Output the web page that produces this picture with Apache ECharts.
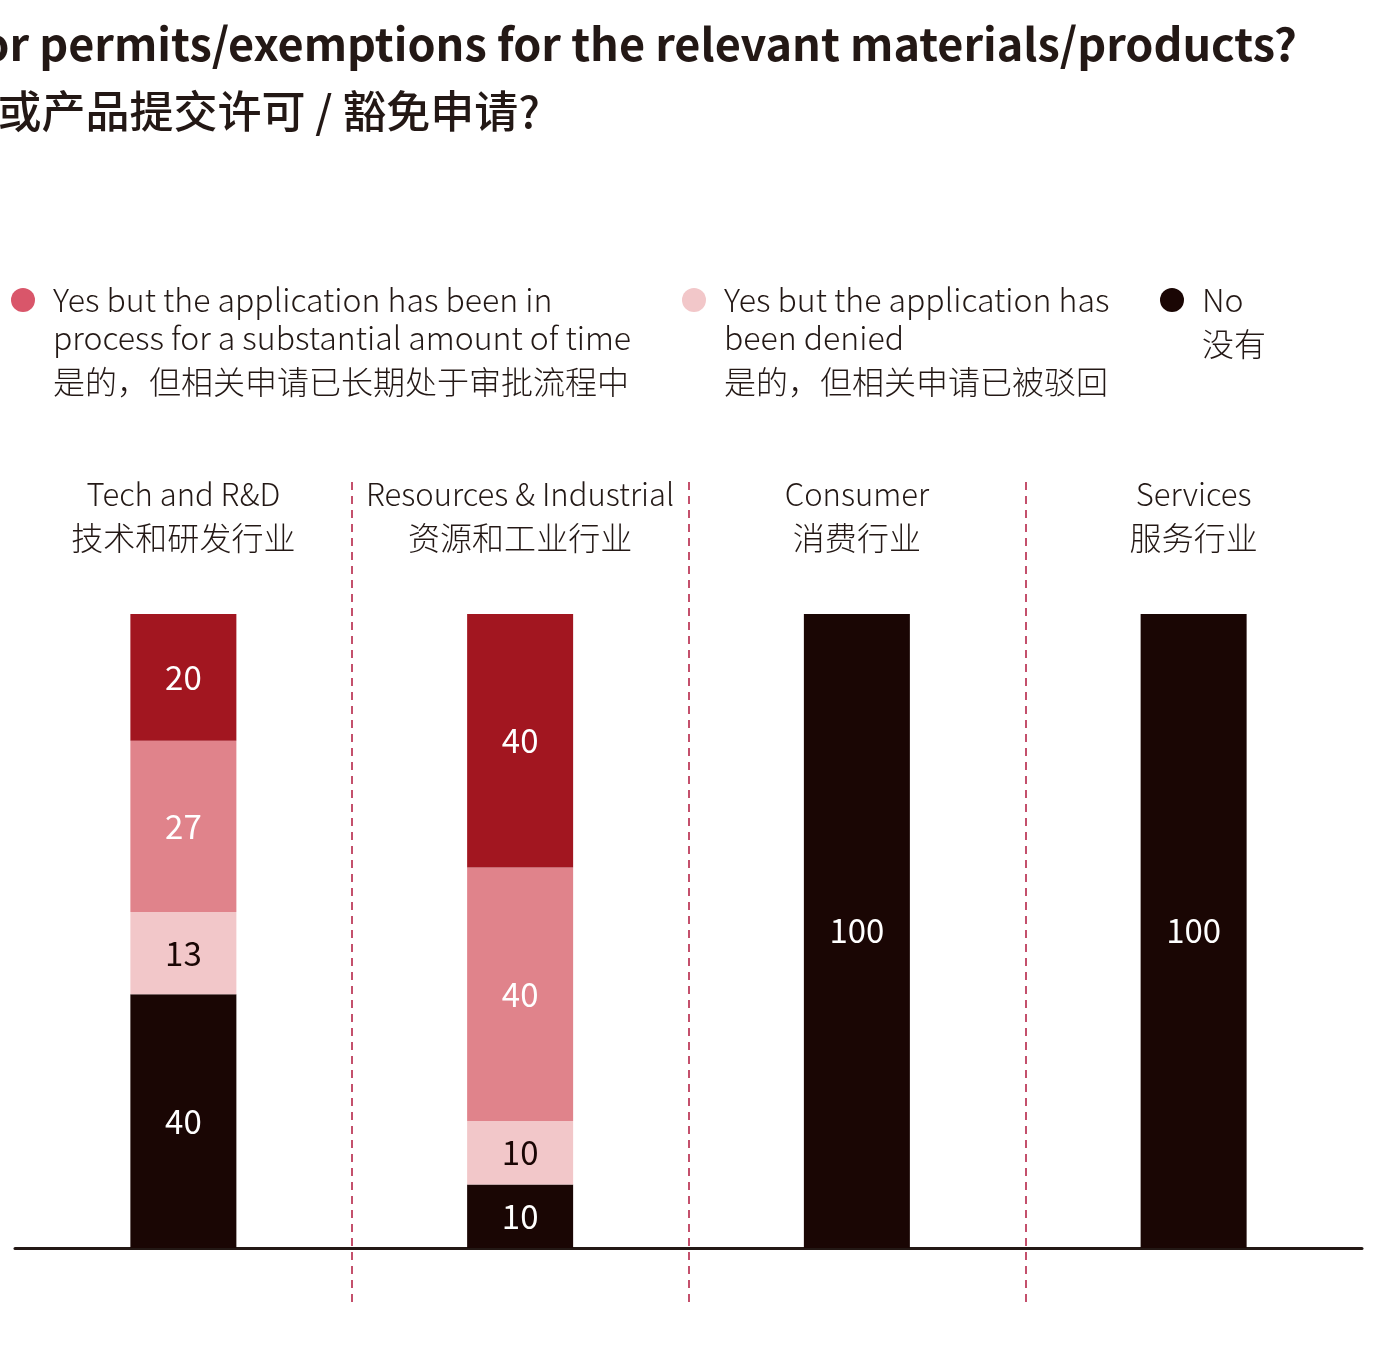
<!DOCTYPE html>
<html>
<head>
<meta charset="utf-8">
<title>Permits / exemptions by sector</title>
<script src="https://cdn.jsdelivr.net/npm/echarts@6/dist/echarts.min.js"></script>
<style>
  html, body { margin: 0; padding: 0; background: #fff; }
  #chart { width: 1388px; height: 1369px; }
</style>
</head>
<body>
<div id="chart"></div>
<script>
// sectors (English / Chinese)
const sectorsEn = ['Tech and R&D', 'Resources & Industrial', 'Consumer', 'Services'];
const sectorsZh = ['技术和研发行业', '资源和工业行业', '消费行业', '服务行业'];

// stacked shares, % of respondents per sector (bottom to top)
const noVals = [40, 10, 100, 100];
const deniedVals = [13, 10, 0, 0];
const inProcessVals = [27, 40, 0, 0];
const yesVals = [20, 40, 0, 0];

// legend texts
const legendInProcess = ['Yes but the application has been in', 'process for a substantial amount of time', '是的，但相关申请已长期处于审批流程中'];
const legendDenied = ['Yes but the application has', 'been denied', '是的，但相关申请已被驳回'];
const legendNo = ['No', '没有'];

const titleEn = 'Has your company applied for permits/exemptions for the relevant materials/products?';
const titleZh = '贵公司是否已就相关材料或产品提交许可 / 豁免申请?';

const FONT = '"Noto Sans CJK SC", "Noto Sans", sans-serif';
const INK = '#231815';

const C_YES = '#a21620';
const C_PROCESS = '#e0838b';
const C_DENIED = '#f2c7c9';
const C_NO = '#1a0604';

const chart = echarts.init(document.getElementById('chart'));

const legendRich = {
  en: { fontFamily: FONT, fontSize: 32, fontWeight: 300, color: INK, lineHeight: 38 },
  zh: { fontFamily: FONT, fontSize: 32, fontWeight: 300, color: INK, lineHeight: 50 }
};

function legendText(lines) {
  return lines.map((l, i) => (i === lines.length - 1 && /[\u4e00-\u9fff]/.test(l) ? '{zh|' : '{en|') + l + '}').join('\n');
}

// push the text down so the marker sits on the first line
function legendItem(name, lines, color) {
  const h = (lines.length - 1) * 38 + 50;
  return {
    name: name,
    itemStyle: color ? { color: color } : undefined,
    textStyle: { padding: [h - 38, 0, 0, 13], rich: legendRich }
  };
}

function makeLegend(name, lines, left, color) {
  return {
    left: left,
    top: 284,
    padding: 0,
    icon: 'circle',
    itemWidth: 24,
    itemHeight: 24,
    selectedMode: false,
    data: [legendItem(name, lines, color)],
    formatter: () => legendText(lines),
    textStyle: { fontFamily: FONT, color: INK, rich: legendRich }
  };
}

function barLabel(color) {
  return {
    show: true,
    position: 'inside',
    color: color,
    fontFamily: FONT,
    fontSize: 33,
    formatter: p => (p.value > 0 ? p.value : '')
  };
}

const NAME_YES = 'Yes and the application has been approved';
const NAME_PROCESS = 'Yes but the application has been in process for a substantial amount of time';
const NAME_DENIED = 'Yes but the application has been denied';
const NAME_NO = 'No';

chart.setOption({
  backgroundColor: '#ffffff',
  animation: false,
  title: [
    {
      text: titleEn,
      right: 91,
      top: 21,
      padding: 0,
      textStyle: { fontFamily: FONT, fontSize: 45, fontWeight: 'bold', color: INK }
    },
    {
      text: titleZh,
      right: 848,
      top: 89,
      padding: 0,
      textStyle: { fontFamily: FONT, fontSize: 44, fontWeight: 500, color: INK }
    }
  ],
  legend: [
    makeLegend(NAME_PROCESS, legendInProcess, 11, '#d9566a'),
    makeLegend(NAME_DENIED, legendDenied, 682),
    makeLegend(NAME_NO, legendNo, 1160)
  ],
  grid: {
    left: 15,
    right: 26,
    top: 482,
    bottom: 64,
    outerBoundsMode: 'none'
  },
  xAxis: [
    {
      type: 'category',
      data: sectorsEn,
      position: 'bottom',
      axisLine: { show: true, onZero: true, lineStyle: { color: INK, width: 3 } },
      axisTick: { show: false },
      axisLabel: { show: false },
      splitLine: {
        show: true,
        interval: 0,
        showMinLine: false,
        showMaxLine: false,
        lineStyle: { color: '#c4506c', width: 2, type: [8, 6] }
      }
    },
    {
      type: 'category',
      data: sectorsEn,
      position: 'top',
      axisLine: { show: false, onZero: false },
      axisTick: { show: false },
      splitLine: { show: false },
      axisLabel: {
        inside: true,
        margin: -8,
        interval: 0,
        formatter: (v, i) => '{en|' + v + '}\n{zh|' + sectorsZh[i] + '}',
        rich: {
          en: { fontFamily: FONT, fontSize: 31, fontWeight: 300, color: INK, lineHeight: 40, align: 'center' },
          zh: { fontFamily: FONT, fontSize: 32, fontWeight: 300, color: INK, lineHeight: 48, align: 'center' }
        }
      }
    }
  ],
  yAxis: {
    type: 'value',
    min: -9,
    max: 120.8,
    show: false,
    splitLine: { show: false }
  },
  series: [
    {
      name: NAME_NO,
      type: 'bar',
      stack: 'total',
      barWidth: 106,
      data: noVals,
      itemStyle: { color: C_NO },
      label: barLabel('#ffffff')
    },
    {
      name: NAME_DENIED,
      type: 'bar',
      stack: 'total',
      barWidth: 106,
      data: deniedVals,
      itemStyle: { color: C_DENIED },
      label: barLabel(C_NO)
    },
    {
      name: NAME_PROCESS,
      type: 'bar',
      stack: 'total',
      barWidth: 106,
      data: inProcessVals,
      itemStyle: { color: C_PROCESS },
      label: barLabel('#ffffff')
    },
    {
      name: NAME_YES,
      type: 'bar',
      stack: 'total',
      barWidth: 106,
      data: yesVals,
      itemStyle: { color: C_YES },
      label: barLabel('#ffffff')
    }
  ]
});
</script>
</body>
</html>
